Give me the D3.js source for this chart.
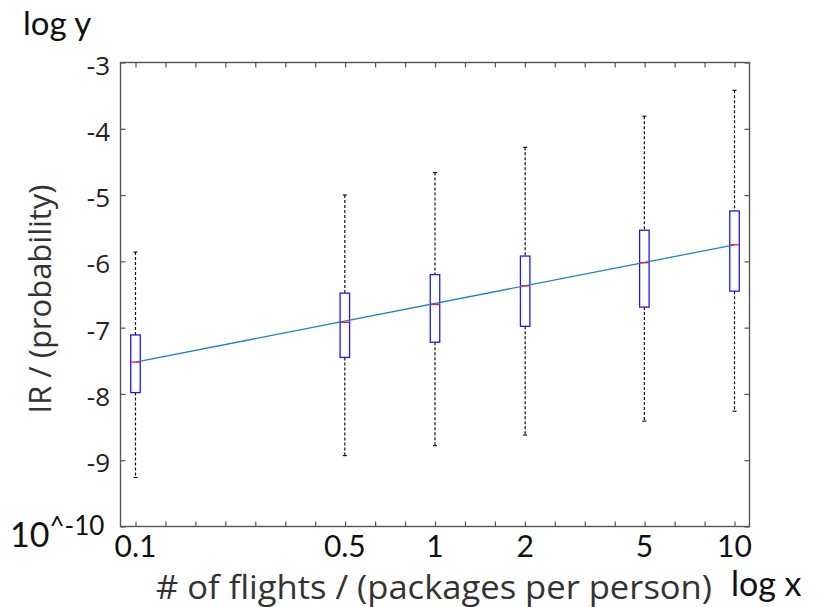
<!DOCTYPE html>
<html>
<head>
<meta charset="utf-8">
<script src="https://cdn.jsdelivr.net/npm/d3@7"></script>
<style>
  html, body { margin: 0; padding: 0; background: #fff; }
  svg { display: block; }
</style>
</head>
<body>
<svg id="chart" width="827" height="607"></svg>
<script>
// Flight count per box (packages per person)
const flights = [0.1, 0.5, 1, 2, 5, 10];
// log10 of IR: whisker ends, quartiles and medians per flight count
const whiskerHigh = [-5.86, -5.00, -4.66, -4.28, -3.81, -3.42];
const upperQuartile = [-7.11, -6.48, -6.20, -5.92, -5.53, -5.24];
const medians = [-7.52, -6.92, -6.65, -6.37, -6.02, -5.75];
const lowerQuartile = [-7.98, -7.45, -7.22, -6.98, -6.69, -6.45];
const whiskerLow = [-9.26, -8.93, -8.78, -8.62, -8.41, -8.26];
// Fitted trend line (log10 IR against flights)
const trendX = [0.1, 10];
const trendY = [-7.52, -5.75];
// Axis labels
const xTickLabels = ["0.1", "0.5", "1", "2", "5", "10"];
const yTickLabels = ["-3", "-4", "-5", "-6", "-7", "-8", "-9"];

const svg = d3.select("#chart");
const plot = { left: 120.5, right: 749.5, top: 62.5, bottom: 526.5 };

const x = d3.scaleLog()
  .domain([Math.pow(10, -1.05), Math.pow(10, 1.05)])
  .range([plot.left, plot.right]);
const y = d3.scaleLinear()
  .domain([-10, -3])
  .range([plot.bottom, plot.top]);

const frameColor = "#555";
const tickLen = 5;
// minor ticks every 0.1 decade along x
const xTickVals = d3.range(-10, 11).map(k => Math.pow(10, k / 10));
const yTickVals = d3.range(-10, -2);

// ---- axes (ticks pointing inward, on all four sides) ----
function styleAxis(g) {
  g.select(".domain").remove();
  g.selectAll(".tick line").attr("stroke", frameColor).attr("stroke-width", 1.2);
  g.selectAll(".tick text").remove();
}
svg.append("g")
  .attr("transform", `translate(0,${plot.bottom})`)
  .call(d3.axisTop(x).tickValues(xTickVals).tickSize(tickLen).tickFormat(""))
  .call(styleAxis);
svg.append("g")
  .attr("transform", `translate(0,${plot.top})`)
  .call(d3.axisBottom(x).tickValues(xTickVals).tickSize(tickLen).tickFormat(""))
  .call(styleAxis);
svg.append("g")
  .attr("transform", `translate(${plot.left},0)`)
  .call(d3.axisRight(y).tickValues(yTickVals).tickSize(tickLen).tickFormat(""))
  .call(styleAxis);
svg.append("g")
  .attr("transform", `translate(${plot.right},0)`)
  .call(d3.axisLeft(y).tickValues(yTickVals).tickSize(tickLen).tickFormat(""))
  .call(styleAxis);

// frame
svg.append("rect")
  .attr("x", plot.left).attr("y", plot.top)
  .attr("width", plot.right - plot.left)
  .attr("height", plot.bottom - plot.top)
  .attr("fill", "none")
  .attr("stroke", frameColor)
  .attr("stroke-width", 1.4);

// ---- tick labels ----
svg.append("g").selectAll("text")
  .data(xTickLabels)
  .join("text")
  .attr("x", d => x(+d))
  .attr("y", 557)
  .attr("text-anchor", "middle")
  .attr("font-family", "Lato, 'Open Sans', sans-serif")
  .attr("font-size", 30)
  .attr("fill", "#111")
  .text(d => d);

svg.append("g").selectAll("text")
  .data(yTickLabels)
  .join("text")
  .attr("x", 110)
  .attr("y", d => y(+d) + 12)
  .attr("text-anchor", "end")
  .attr("font-family", "'Open Sans', 'DejaVu Sans', sans-serif")
  .attr("font-size", 26)
  .attr("fill", "#222")
  .text(d => d);

// bottom-left power label
const pow = svg.append("text")
  .attr("x", 10)
  .attr("y", 547)
  .attr("font-family", "Lato, 'Open Sans', sans-serif")
  .attr("font-size", 34)
  .attr("fill", "#111");
pow.append("tspan").text("10");
pow.append("tspan").attr("dy", -12).attr("font-size", 26).text("^-10");

// ---- axis titles ----
svg.append("text")
  .attr("x", 434).attr("y", 599)
  .attr("text-anchor", "middle")
  .attr("font-family", "'Open Sans', sans-serif")
  .attr("font-size", 32)
  .attr("textLength", 556)
  .attr("lengthAdjust", "spacingAndGlyphs")
  .attr("fill", "#333")
  .text("# of flights / (packages per person)");

svg.append("text")
  .attr("transform", "translate(51,299) rotate(-90)")
  .attr("text-anchor", "middle")
  .attr("font-family", "'Open Sans', sans-serif")
  .attr("font-size", 31)
  .attr("fill", "#333")
  .text("IR / (probability)");

svg.append("text")
  .attr("x", 23).attr("y", 35)
  .attr("font-family", "Lato, 'Open Sans', sans-serif")
  .attr("font-size", 33)
  .attr("fill", "#111")
  .text("log y");

svg.append("text")
  .attr("x", 731).attr("y", 596)
  .attr("font-family", "Lato, 'Open Sans', sans-serif")
  .attr("font-size", 34)
  .attr("fill", "#111")
  .text("log x");

// ---- box plots ----
const boxes = flights.map((f, i) => ({
  f, hi: whiskerHigh[i], q3: upperQuartile[i], med: medians[i],
  q1: lowerQuartile[i], lo: whiskerLow[i]
}));
const boxW = 9.5, capW = 4;
const bg = svg.append("g");

// dashed whiskers
bg.append("g").selectAll("line").data(boxes).join("line")
  .attr("x1", d => x(d.f)).attr("x2", d => x(d.f))
  .attr("y1", d => y(d.hi)).attr("y2", d => y(d.q3))
  .attr("stroke", "#111").attr("stroke-width", 1.2)
  .attr("stroke-dasharray", "3,2");
bg.append("g").selectAll("line").data(boxes).join("line")
  .attr("x1", d => x(d.f)).attr("x2", d => x(d.f))
  .attr("y1", d => y(d.q1)).attr("y2", d => y(d.lo))
  .attr("stroke", "#111").attr("stroke-width", 1.2)
  .attr("stroke-dasharray", "3,2");
// caps
["hi", "lo"].forEach(k => {
  bg.append("g").selectAll("line").data(boxes).join("line")
    .attr("x1", d => x(d.f) - capW / 2).attr("x2", d => x(d.f) + capW / 2)
    .attr("y1", d => y(d[k])).attr("y2", d => y(d[k]))
    .attr("stroke", "#111").attr("stroke-width", 1.2);
});
// boxes
bg.append("g").selectAll("rect").data(boxes).join("rect")
  .attr("x", d => x(d.f) - boxW / 2)
  .attr("y", d => y(d.q3))
  .attr("width", boxW)
  .attr("height", d => y(d.q1) - y(d.q3))
  .attr("fill", "none")
  .attr("stroke", "#1a1aff")
  .attr("stroke-width", 1.3);

// trend line
svg.append("path")
  .datum(trendX.map((v, i) => [v, trendY[i]]))
  .attr("d", d3.line().x(d => x(d[0])).y(d => y(d[1])))
  .attr("fill", "none")
  .attr("stroke", "#1f82c6")
  .attr("stroke-width", 1.3);

// medians
svg.append("g").selectAll("line").data(boxes).join("line")
  .attr("x1", d => x(d.f) - boxW / 2).attr("x2", d => x(d.f) + boxW / 2)
  .attr("y1", d => y(d.med)).attr("y2", d => y(d.med))
  .attr("stroke", "#ff1a1a").attr("stroke-width", 1.3);
</script>
</body>
</html>
